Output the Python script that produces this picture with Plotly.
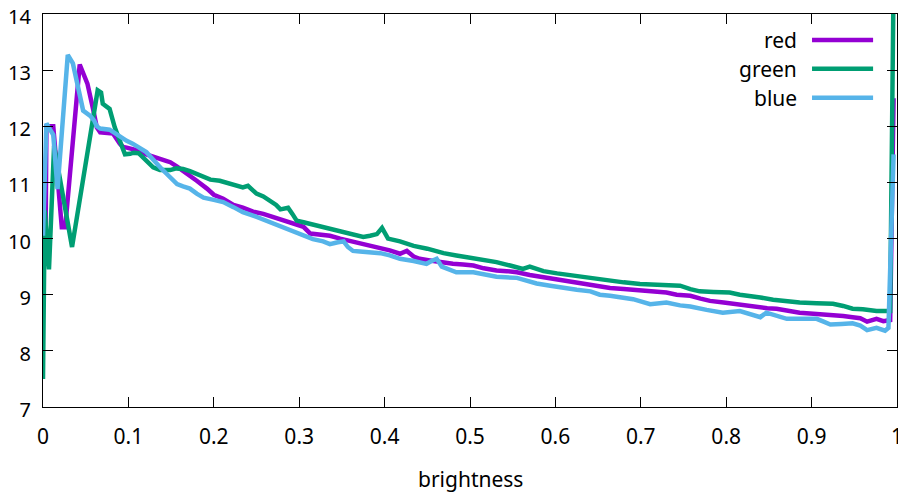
import plotly.graph_objects as go

# ---- data ----
red_x = [0, 0.003, 0.004, 0.012, 0.022, 0.026, 0.043, 0.047, 0.052, 0.059, 0.063, 0.067, 0.075, 0.082,
         0.09, 0.094, 0.098, 0.106, 0.114, 0.121, 0.129, 0.137, 0.145, 0.149, 0.157, 0.164, 0.172, 0.18,
         0.192, 0.2, 0.211, 0.223, 0.234, 0.246, 0.258, 0.27, 0.281, 0.293, 0.305, 0.313, 0.324, 0.336,
         0.348, 0.359, 0.371, 0.383, 0.395, 0.406, 0.418, 0.426, 0.434, 0.441, 0.453, 0.465, 0.48, 0.492,
         0.504, 0.516, 0.531, 0.543, 0.555, 0.57, 0.586, 0.602, 0.617, 0.633, 0.648, 0.664, 0.68, 0.691,
         0.71, 0.73, 0.742, 0.758, 0.77, 0.781, 0.797, 0.808, 0.82, 0.836, 0.848, 0.859, 0.871, 0.886,
         0.902, 0.914, 0.925, 0.937, 0.948, 0.957, 0.965, 0.976, 0.984, 0.992, 0.996]
red_y = [9.6, 10.0, 12.0, 12.0, 10.2, 10.2, 13.1, 12.95, 12.76, 12.28, 11.98, 11.89, 11.88, 11.87,
         11.69, 11.63, 11.62, 11.6, 11.56, 11.5, 11.47, 11.42, 11.38, 11.36, 11.28, 11.21, 11.12, 11.03,
         10.89, 10.78, 10.71, 10.6, 10.55, 10.48, 10.44, 10.38, 10.33, 10.27, 10.21, 10.09, 10.07, 10.05,
         10.0, 9.96, 9.92, 9.87, 9.84, 9.79, 9.73, 9.78, 9.68, 9.64, 9.61, 9.58, 9.55, 9.54,
         9.52, 9.47, 9.43, 9.42, 9.40, 9.35, 9.31, 9.26, 9.22, 9.19, 9.15, 9.12, 9.1, 9.09,
         9.06, 9.04, 9.0, 8.98, 8.93, 8.89, 8.86, 8.84, 8.8, 8.77, 8.76, 8.75, 8.71, 8.68,
         8.66, 8.65, 8.63, 8.62, 8.6, 8.58, 8.52, 8.57, 8.53, 8.55, 12.5]

green_x = [0, 0.002, 0.007, 0.013, 0.034, 0.064, 0.068, 0.07, 0.078, 0.084, 0.09, 0.096, 0.102, 0.106,
           0.112, 0.119, 0.129, 0.137, 0.149, 0.156, 0.164, 0.172, 0.18, 0.188, 0.196, 0.207, 0.219,
           0.227, 0.234, 0.24, 0.25, 0.258, 0.266, 0.273, 0.278, 0.287, 0.292, 0.297, 0.305, 0.316,
           0.328, 0.34, 0.352, 0.363, 0.375, 0.383, 0.391, 0.397, 0.404, 0.418, 0.434, 0.45, 0.469,
           0.484, 0.5, 0.516, 0.531, 0.547, 0.562, 0.57, 0.586, 0.602, 0.617, 0.632, 0.648, 0.664,
           0.68, 0.699, 0.72, 0.746, 0.758, 0.769, 0.785, 0.804, 0.816, 0.828, 0.84, 0.855, 0.87,
           0.886, 0.906, 0.925, 0.937, 0.948, 0.96, 0.976, 0.992, 0.996]
green_y = [7.5, 10.5, 9.45, 11.65, 9.85, 12.64, 12.6, 12.4, 12.31, 11.98, 11.74, 11.5, 11.51, 11.53,
           11.52, 11.42, 11.27, 11.22, 11.22, 11.25, 11.24, 11.2, 11.15, 11.1, 11.05, 11.03, 10.97,
           10.95, 10.91, 10.94, 10.8, 10.75, 10.68, 10.6, 10.52, 10.55, 10.44, 10.32, 10.29, 10.25,
           10.2, 10.16, 10.11, 10.07, 10.03, 10.05, 10.08, 10.19, 10.0, 9.95, 9.87, 9.82, 9.74,
           9.7, 9.66, 9.62, 9.58, 9.52, 9.46, 9.5, 9.42, 9.38, 9.35, 9.32, 9.27, 9.25,
           9.22, 9.19, 9.17, 9.16, 9.1, 9.06, 9.05, 9.04, 9.0, 8.98, 8.95, 8.91, 8.88,
           8.86, 8.85, 8.84, 8.8, 8.75, 8.74, 8.71, 8.71, 14.6]

blue_x = [0, 0.004, 0.008, 0.012, 0.017, 0.029, 0.035, 0.04, 0.047, 0.055, 0.06, 0.063, 0.067, 0.078,
          0.084, 0.09, 0.098, 0.105, 0.113, 0.121, 0.127, 0.133, 0.139, 0.145, 0.151, 0.157, 0.164,
          0.172, 0.18, 0.188, 0.2, 0.211, 0.223, 0.234, 0.246, 0.258, 0.27, 0.281, 0.293, 0.305,
          0.316, 0.328, 0.336, 0.344, 0.352, 0.357, 0.363, 0.371, 0.383, 0.395, 0.406, 0.418, 0.434,
          0.449, 0.455, 0.461, 0.467, 0.473, 0.484, 0.504, 0.516, 0.531, 0.555, 0.566, 0.578, 0.594,
          0.609, 0.625, 0.641, 0.652, 0.664, 0.68, 0.691, 0.711, 0.73, 0.746, 0.758, 0.777, 0.796,
          0.816, 0.828, 0.84, 0.847, 0.859, 0.871, 0.89, 0.906, 0.914, 0.922, 0.935, 0.948, 0.957,
          0.965, 0.976, 0.986, 0.99, 0.996]
blue_y = [10.05, 12.05, 11.95, 11.85, 10.88, 13.27, 13.12, 12.8, 12.28, 12.19, 12.1, 12.0, 11.96, 11.94,
          11.88, 11.8, 11.74, 11.69, 11.62, 11.54, 11.44, 11.33, 11.24, 11.15, 11.05, 10.97, 10.93,
          10.89, 10.8, 10.73, 10.69, 10.65, 10.56, 10.47, 10.41, 10.34, 10.27, 10.2, 10.12, 10.05,
          9.99, 9.95, 9.9, 9.93, 9.95, 9.85, 9.78, 9.77, 9.76, 9.74, 9.7, 9.64, 9.6,
          9.55, 9.6, 9.64, 9.5, 9.46, 9.4, 9.4, 9.36, 9.32, 9.3, 9.25, 9.2, 9.16,
          9.12, 9.09, 9.06, 9.0, 8.98, 8.95, 8.92, 8.83, 8.86, 8.81, 8.79, 8.73, 8.68,
          8.71, 8.65, 8.6, 8.68, 8.62, 8.57, 8.57, 8.57, 8.52, 8.47, 8.48, 8.49, 8.45,
          8.37, 8.41, 8.36, 8.41, 11.5]

series_names = ["red", "green", "blue"]
series_colors = ["#9400d3", "#009e73", "#56b4e9"]
x_ticks = [0, 0.1, 0.2, 0.3, 0.4, 0.5, 0.6, 0.7, 0.8, 0.9, 1]
x_tick_labels = ["0", "0.1", "0.2", "0.3", "0.4", "0.5", "0.6", "0.7", "0.8", "0.9", "1"]
y_ticks = [7, 8, 9, 10, 11, 12, 13, 14]
x_label = "brightness"

FONT = "Noto Sans"
FS = 21

fig = go.Figure()
for name, color, xs, ys in zip(series_names, series_colors,
                               [red_x, green_x, blue_x], [red_y, green_y, blue_y]):
    fig.add_trace(go.Scatter(x=xs, y=ys, mode="lines", name=name,
                             line=dict(color=color, width=4.5), showlegend=False))

# gnuplot-style legend (text right-aligned, sample line to its right)
row_y = [0.934, 0.861, 0.787]
for name, color, yy in zip(series_names, series_colors, row_y):
    fig.add_annotation(x=0.885, y=yy, xref="paper", yref="paper", text=name,
                       showarrow=False, xanchor="right", yanchor="middle",
                       font=dict(family=FONT, size=FS, color="black"))
    fig.add_shape(type="line", xref="paper", yref="paper", x0=0.9005, x1=0.972, y0=yy, y1=yy,
                  line=dict(color=color, width=4.5))

fig.add_annotation(x=0.5, y=0, xref="paper", yref="paper", text=x_label, showarrow=False,
                   xanchor="center", yanchor="middle", yshift=-72,
                   font=dict(family=FONT, size=FS, color="black"))

axis_common = dict(showgrid=False, zeroline=False, showline=True, linecolor="black", linewidth=1,
                   ticks="inside", ticklen=10, tickwidth=1, tickcolor="black", mirror="allticks",
                   automargin=False, ticklabeloverflow="allow")
fig.update_xaxes(range=[0, 1], tickvals=x_ticks, ticktext=x_tick_labels, ticklabelstandoff=11,
                 tickfont=dict(family=FONT, size=FS, color="black"), **axis_common)
fig.update_yaxes(range=[7, 14], tickvals=y_ticks, ticklabelstandoff=7, ticklabelshift=3,
                 tickfont=dict(family=FONT, size=20, color="black"), **axis_common)

# the page body has an 8px margin, so the figure is 8px smaller and margins shifted
fig.update_layout(width=898, height=484, margin=dict(l=35, r=9, t=6, b=85),
                  plot_bgcolor="white", paper_bgcolor="white",
                  font=dict(family=FONT, size=FS, color="black"))

fig.write_html("out.html")
